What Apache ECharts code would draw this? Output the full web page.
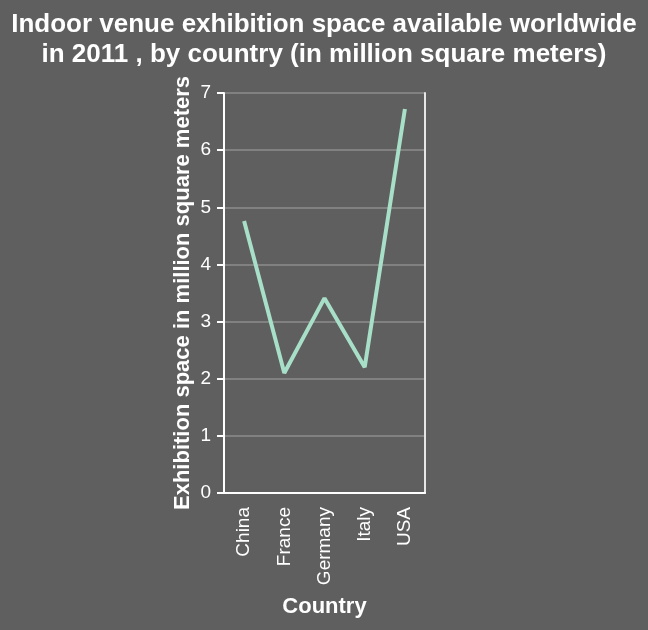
<!DOCTYPE html>
<html>
<head>
<meta charset="utf-8">
<script src="https://cdn.jsdelivr.net/npm/echarts@6/dist/echarts.min.js"></script>
<style>
html, body { margin: 0; padding: 0; background: #5f5f5f; }
#chart { width: 648px; height: 630px; }
</style>
</head>
<body>
<div id="chart"></div>
<script>
// data
var countries = ['China', 'France', 'Germany', 'Italy', 'USA'];
var spaceValues = [4.76, 2.1, 3.41, 2.2, 6.72];

var myChart = echarts.init(document.getElementById('chart'));
var font = 'Liberation Sans, Arial, sans-serif';

var option = {
    backgroundColor: '#5f5f5f',
    title: {
        text: 'Indoor venue exhibition space available worldwide\nin 2011 , by country (in million square meters)',
        left: 'center',
        top: 5,
        textStyle: {
            color: '#ffffff',
            fontFamily: font,
            fontSize: 26,
            fontWeight: 'bold',
            lineHeight: 30
        }
    },
    grid: {
        left: 224,
        right: 223,
        top: 93,
        bottom: 137
    },
    xAxis: {
        type: 'category',
        data: countries,
        name: 'Country',
        nameLocation: 'middle',
        nameGap: 103,
        nameTextStyle: {
            color: '#ffffff',
            fontFamily: font,
            fontSize: 22,
            fontWeight: 'bold'
        },
        axisLine: { lineStyle: { color: '#ffffff', width: 2 } },
        axisTick: { alignWithLabel: true, length: 7, lineStyle: { color: '#ffffff', width: 2 } },
        axisLabel: {
            rotate: 90,
            color: '#ffffff',
            fontFamily: font,
            fontSize: 19,
            margin: 14
        }
    },
    yAxis: [{
        type: 'value',
        min: 0,
        max: 7,
        interval: 1,
        name: 'Exhibition space in million square meters',
        nameLocation: 'middle',
        nameGap: 30,
        nameTextStyle: {
            color: '#ffffff',
            fontFamily: font,
            fontSize: 22,
            fontWeight: 'bold'
        },
        axisLine: { show: true, lineStyle: { color: '#ffffff', width: 2 } },
        axisTick: { show: true, length: 7, lineStyle: { color: '#ffffff', width: 2 } },
        axisLabel: {
            color: '#ffffff',
            fontFamily: font,
            fontSize: 19,
            margin: 13
        },
        splitLine: { lineStyle: { color: '#8c8c8c', width: 1.5 } }
    }, {
        type: 'value',
        min: 0,
        max: 7,
        position: 'right',
        axisLine: { show: true, lineStyle: { color: '#e6e6e6', width: 2 } },
        axisTick: { show: false },
        axisLabel: { show: false },
        splitLine: { show: false }
    }],
    series: [{
        type: 'line',
        data: spaceValues,
        symbol: 'none',
        lineStyle: { color: '#a8dfc8', width: 4 },
        itemStyle: { color: '#a8dfc8' }
    }]
};
myChart.setOption(option);
</script>
</body>
</html>
